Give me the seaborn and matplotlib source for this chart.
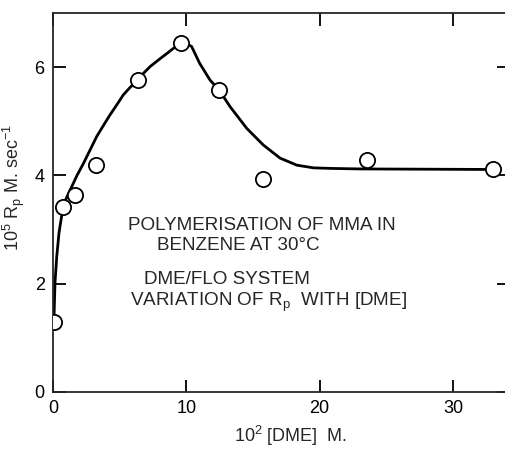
import numpy as np
import pandas as pd
import matplotlib
matplotlib.use("Agg")
import matplotlib.pyplot as plt
import seaborn as sns

# Measured points: 10^2 [DME] (M) vs 10^5 Rp (M sec^-1)
dme = [0.07, 0.75, 1.65, 3.2, 6.35, 9.6, 12.45, 15.75, 23.55, 33.0]
rp = [1.30, 3.41, 3.64, 4.20, 5.76, 6.45, 5.58, 3.93, 4.28, 4.12]

# Hand-drawn fitted curve, knots
curve_x = [0.07, 0.10, 0.15, 0.28, 0.45, 0.75, 1.0, 1.40, 1.8, 2.28, 2.8, 3.28, 3.8,
           4.28, 4.8, 5.28, 5.8, 6.33, 6.8, 7.28, 8.0, 8.53, 9.1, 9.6, 10.0, 10.4,
           11.0, 11.78, 12.45, 13.28, 14.53, 15.78, 17.03, 18.28, 19.53, 20.78,
           23.0, 33.0]
curve_y = [1.30, 1.60, 2.02, 2.50, 2.94, 3.41, 3.58, 3.79, 4.00, 4.22, 4.48, 4.72, 4.93,
           5.12, 5.31, 5.49, 5.63, 5.76, 5.89, 6.01, 6.15, 6.25, 6.36, 6.44, 6.44, 6.38,
           6.07, 5.76, 5.58, 5.27, 4.87, 4.56, 4.32, 4.19, 4.14, 4.13,
           4.12, 4.11]

x_ticks = [0, 10, 20, 30]
y_ticks = [0, 2, 4, 6]

annot_lines = ["POLYMERISATION OF MMA IN", "BENZENE AT 30°C",
               "DME/FLO SYSTEM", r"VARIATION OF R$_\mathrm{p}$  WITH [DME]"]

sns.set_style("ticks")
plt.rcParams['font.family'] = ['Liberation Sans', 'DejaVu Sans']
plt.rcParams['mathtext.fontset'] = 'custom'
plt.rcParams['mathtext.rm'] = 'Liberation Sans'
plt.rcParams['mathtext.it'] = 'Liberation Sans'

fig = plt.figure(figsize=(5.06, 4.49), dpi=100)
ax = fig.add_axes([53/506, 57/449, 456/506, 379/449])

df_curve = pd.DataFrame({"x": curve_x, "y": curve_y})
df_pts = pd.DataFrame({"x": dme, "y": rp})

sns.lineplot(data=df_curve, x="x", y="y", ax=ax, color="black", lw=2.0,
             sort=False, estimator=None, solid_joinstyle="round",
             solid_capstyle="round")
sns.scatterplot(data=df_pts, x="x", y="y", ax=ax, s=120, marker="o",
                facecolor="white", edgecolor="black", linewidth=1.3, zorder=5)

ax.set_xlim(0, 34.2)
ax.set_ylim(0, 7)
ax.set_xticks(x_ticks)
ax.set_yticks(y_ticks)
for s in ax.spines.values():
    s.set_linewidth(1.3)
ax.tick_params(direction="in", length=9, width=1.3, top=True, right=True,
               labelsize=13, colors="black", pad=6)

ax.set_xlabel(r"10$^2$ [DME]  M.", fontsize=13)
ax.xaxis.set_label_coords(0.52, -0.083)
ax.set_ylabel(r"10$^5$ R$_\mathrm{p}$ M. sec$^{-1}$", fontsize=13)
ax.yaxis.set_label_coords(-0.058, 0.54)

txt_kw = dict(transform=ax.transAxes, fontsize=13.6, ha="left", va="center")
ax.text((128-53)/456, (392-225)/379, annot_lines[0], **txt_kw)
ax.text((157-53)/456, (392-245)/379, annot_lines[1], **txt_kw)
ax.text((144-53)/456, (392-280)/379, annot_lines[2], **txt_kw)
ax.text((130-53)/456, (392-302)/379, annot_lines[3], **txt_kw)

fig.savefig("out.png", dpi=100)
